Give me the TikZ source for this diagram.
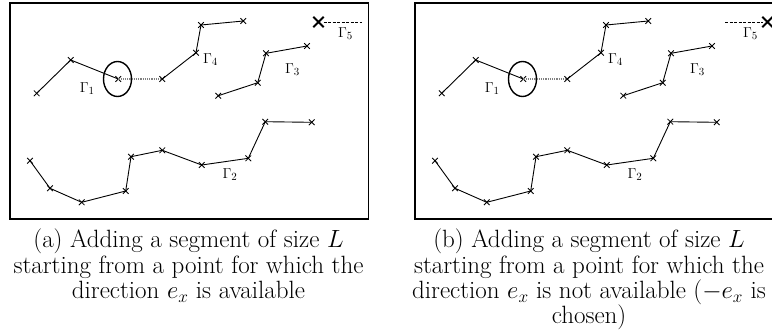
\documentclass[tikz,border=0pt]{standalone}
\usetikzlibrary{shapes.misc,shapes.geometric}
\begin{document}
\begin{tikzpicture}[x=1pt,y=-1pt,
  xmark/.style={cross out,draw,line width=0.85pt,minimum size=4.8pt,inner sep=0pt},
  bigx/.style={cross out,draw,line width=1.9pt,minimum size=8.5pt,inner sep=0pt},
  segline/.style={line width=0.9pt},
  framebox/.style={draw,line width=1.1pt},
  ringnode/.style={ellipse,draw,line width=1.4pt,minimum width=28pt,minimum height=35pt,inner sep=0pt},
  linkline/.style={densely dotted,line width=1.2pt,gray},
  extline/.style={dash pattern=on 3pt off 1.5pt,line width=0.8pt},
  gamlbl/.style={font=\fontsize{15}{17}\selectfont,inner sep=0pt},
  captxt/.style={font=\fontsize{25}{25.2}\selectfont,align=center,anchor=north,inner sep=0pt}]
\useasboundingbox (0,0) rectangle (772,335);

\draw[framebox] (10,3) rectangle (368.3,219);
\draw[framebox] (415,3) rectangle (776,219);

\newcommand\pnl[2]{%
\begin{scope}[xshift=#2]
  % Gamma 1
  \node[xmark] (#1a1) at (36.7,93.3) {};
  \node[xmark] (#1a2) at (70.7,60) {};
  \node[xmark] (#1a3) at (118.3,79) {};
  \draw[segline] (#1a1.center) -- (#1a2.center) -- (#1a3.center);
  \node[ringnode] (#1ring) at (117.5,79) {};
  \node[gamlbl] (#1l1) at (87.3,88.3) {$\Gamma_1$};
  % Gamma 4
  \node[xmark] (#1d1) at (162.3,79) {};
  \node[xmark] (#1d2) at (196,52.7) {};
  \node[xmark] (#1d3) at (201,25) {};
  \node[xmark] (#1d4) at (243.3,21) {};
  \draw[segline] (#1d1.center) -- (#1d2.center) -- (#1d3.center) -- (#1d4.center);
  \node[gamlbl] (#1l4) at (210.5,59.5) {$\Gamma_4$};
  \draw[linkline] (#1a3.center) -- (#1d1.center);
  % Gamma 3
  \node[xmark] (#1c1) at (218.3,95.7) {};
  \node[xmark] (#1c2) at (257.7,82.7) {};
  \node[xmark] (#1c3) at (266,53.3) {};
  \node[xmark] (#1c4) at (307,46) {};
  \draw[segline] (#1c1.center) -- (#1c2.center) -- (#1c3.center) -- (#1c4.center);
  \node[gamlbl] (#1l3) at (292.5,69.5) {$\Gamma_3$};
  % Gamma 2
  \node[xmark] (#1b1) at (30,160.7) {};
  \node[xmark] (#1b2) at (50,188.3) {};
  \node[xmark] (#1b3) at (81.7,202.3) {};
  \node[xmark] (#1b4) at (125.7,191) {};
  \node[xmark] (#1b5) at (131,156.7) {};
  \node[xmark] (#1b6) at (162.3,150.3) {};
  \node[xmark] (#1b7) at (201.7,165) {};
  \node[xmark] (#1b8) at (248.3,158.3) {};
  \node[xmark] (#1b9) at (265.3,121.7) {};
  \node[xmark] (#1b10) at (311.7,122.3) {};
  \draw[segline] (#1b1.center) -- (#1b2.center) -- (#1b3.center) -- (#1b4.center)
    -- (#1b5.center) -- (#1b6.center) -- (#1b7.center) -- (#1b8.center)
    -- (#1b9.center) -- (#1b10.center);
  \node[gamlbl] (#1l2) at (230,174.5) {$\Gamma_2$};
  \node[gamlbl] (#1l5) at (345.5,33.5) {$\Gamma_5$};
\end{scope}}

\pnl{A}{0pt}
\pnl{B}{405pt}

% Gamma 5, panel (a)
\node[bigx] (Ax) at (318.5,22) {};
\coordinate (Ae) at (362,22);
\draw[extline] ([xshift=5pt]Ax.center) -- (Ae);
% Gamma 5, panel (b)
\node[bigx] (Bx) at (767.5,22) {};
\coordinate (Be) at (725,22);
\draw[extline] (Be) -- ([xshift=-5pt]Bx.center);

\node[captxt] (capa) at (188.5,229) {(a) Adding a segment of size $L$\\starting from a point for which the\\direction $e_x$ is available};
\node[captxt] (capb) at (589,229) {(b) Adding a segment of size $L$\\starting from a point for which the\\direction $e_x$ is not available ($-e_x$ is\\chosen)};
\end{tikzpicture}
\end{document}
